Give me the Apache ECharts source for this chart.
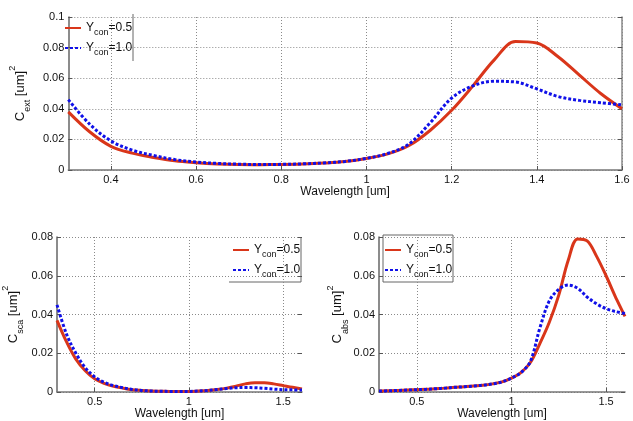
<!DOCTYPE html>
<html><head><meta charset="utf-8">
<script src="https://cdn.jsdelivr.net/npm/echarts@6/dist/echarts.min.js"></script>
<style>html,body{margin:0;padding:0;background:#fff}#c{width:633px;height:421px}</style>
</head><body><div id="c"></div>
<script>
const wavelength = [0.30,0.35,0.40,0.45,0.50,0.55,0.60,0.65,0.70,0.75,0.80,0.85,0.90,0.95,1.00,1.05,1.10,1.15,1.20,1.25,1.30,1.35,1.40,1.45,1.50,1.55,1.60];
const seriesNames = ['Y_con=0.5','Y_con=1.0'];
const extY05 = [0.038,0.025,0.0155,0.011,0.0082,0.006,0.0048,0.004,0.0036,0.0035,0.0036,0.0039,0.0045,0.0055,0.0075,0.0105,0.016,0.026,0.039,0.055,0.072,0.084,0.083,0.074,0.062,0.050,0.040];
const extY10 = [0.046,0.030,0.019,0.013,0.0095,0.0068,0.0052,0.0043,0.0038,0.0036,0.0037,0.004,0.0046,0.0056,0.0076,0.0108,0.017,0.031,0.047,0.055,0.058,0.0575,0.053,0.048,0.0455,0.044,0.0425];
const scaY05 = [0.037,0.026,0.017,0.011,0.0068,0.0045,0.003,0.002,0.0012,0.0008,0.0005,0.0004,0.0003,0.0003,0.0003,0.0005,0.0008,0.0013,0.002,0.003,0.0042,0.0048,0.0048,0.0042,0.0033,0.0024,0.0016];
const scaY10 = [0.045,0.030,0.020,0.0125,0.0078,0.005,0.0033,0.0022,0.0013,0.0008,0.0005,0.0004,0.0003,0.0003,0.0003,0.0005,0.0008,0.0013,0.0018,0.0022,0.0023,0.0022,0.0019,0.0015,0.0012,0.0011,0.001];
const absY05 = [0.0005,0.0006,0.0008,0.001,0.0012,0.0014,0.0017,0.002,0.0024,0.0027,0.0031,0.0035,0.0042,0.0052,0.0072,0.010,0.0152,0.025,0.036,0.050,0.068,0.079,0.078,0.070,0.060,0.049,0.039];
const absY10 = [0.0005,0.0006,0.0008,0.001,0.0012,0.0014,0.0017,0.002,0.0024,0.0027,0.0031,0.0035,0.0042,0.0052,0.0072,0.010,0.0158,0.033,0.047,0.053,0.0552,0.0535,0.049,0.0455,0.043,0.0415,0.0405];
const topXTicks = [0.4,0.6,0.8,1.0,1.2,1.4,1.6];
const botXTicks = [0.5,1.0,1.5];
const xName = 'Wavelength [um]';

const FONT = "'Liberation Sans', Arial, sans-serif";
const RED = '#d9361a', BLUE = '#1010e8';
const GRID_LINE = {show:true, lineStyle:{type:[1,2], color:'#8a8a8a', width:1}};
const nameRich = {
  a:{fontSize:13, fontFamily:FONT, color:'#111', lineHeight:24, verticalAlign:'middle'},
  s:{fontSize:9, fontFamily:FONT, color:'#111', lineHeight:9, verticalAlign:'bottom'},
  p:{fontSize:9, fontFamily:FONT, color:'#111', lineHeight:9, verticalAlign:'top'}
};
function yName(sub){ return '{a|C}{s|'+sub+'}{a| [um]}{p|2}'; }

function xAxis(gi, ticks, gap){
  return {type:'value', gridIndex:gi, min:0.3, max:1.6, name:xName, nameLocation:'middle', nameGap:gap,
    nameTextStyle:{fontFamily:FONT, fontSize:12, color:'#111'},
    axisLine:{show:true, onZero:false, lineStyle:{color:'#777', width:1.5}},
    axisTick:{show:true, inside:true, length:4, customValues:ticks, lineStyle:{color:'#555'}},
    axisLabel:{customValues:ticks, fontFamily:FONT, fontSize:11, color:'#111', margin:4,
      formatter:v=>String(+v.toFixed(1))},
    splitLine:GRID_LINE};
}
function yAxis(gi, max, sub, gap){
  return {type:'value', gridIndex:gi, min:0, max:max, interval:0.02, name:yName(sub), nameLocation:'middle', nameGap:gap,
    nameTextStyle:{rich:nameRich},
    axisLine:{show:true, lineStyle:{color:'#666', width:1.5}},
    axisTick:{show:true, inside:true, length:4, lineStyle:{color:'#555'}},
    axisLabel:{fontFamily:FONT, fontSize:11, color:'#111', margin:4, showMaxLabel:true},
    splitLine:GRID_LINE};
}
function yRight(gi, max, showLine){
  return {type:'value', gridIndex:gi, min:0, max:max, interval:0.02, position:'right',
    axisLine:{show:showLine, lineStyle:{color:'#888', width:1.5}},
    axisTick:{show:true, inside:true, length:4, lineStyle:{color:'#555'}},
    axisLabel:{show:false}, splitLine:{show:false}};
}
function pairs(ys){ return wavelength.map((x,i)=>[x, ys[i]]); }
function ser(name, gi, ys, yi){
  const red = name === seriesNames[0];
  return {type:'line', name:name, xAxisIndex:gi, yAxisIndex:yi, data:pairs(ys), smooth:0.35,
    symbol:'none', showSymbol:false, z: red ? 2 : 3,
    lineStyle:{color: red?RED:BLUE, width:3, type: red?'solid':[3,2]},
    itemStyle:{color: red?RED:BLUE}};
}
const legFmt = n => '{a|Y}{b|con}{a|' + n.split('_con')[1] + '}';
const legRich = {
  a:{fontSize:12, fontFamily:FONT, color:'#111', lineHeight:18, verticalAlign:'middle'},
  b:{fontSize:9, fontFamily:FONT, color:'#111', lineHeight:9, verticalAlign:'bottom'}
};
function legend(left, top){
  return {data:seriesNames, orient:'vertical', left:left, top:top, itemWidth:16, itemHeight:10, itemGap:5,
    padding:[2,2,2,2], formatter:legFmt, textStyle:{rich:legRich}, selectedMode:false, borderWidth:0,
    itemStyle:{opacity:0}};
}

const chart = echarts.init(document.getElementById('c'), null, {renderer:'canvas'});
chart.setOption({
  animation:false,
  backgroundColor:'#fff',
  grid:[
    {left:60, right:11, top:17, bottom:251},
    {left:56, right:331, top:237, bottom:29},
    {left:379, right:8, top:237, bottom:29}
  ],
  xAxis:[xAxis(0, topXTicks, 13), xAxis(1, botXTicks, 15), xAxis(2, botXTicks, 15)],
  yAxis:[yAxis(0, 0.1, 'ext', 33), yAxis(1, 0.08, 'sca', 32), yAxis(2, 0.08, 'abs', 29),
         yRight(0, 0.1, true), yRight(1, 0.08, false), yRight(2, 0.08, false)],
  legend:[legend(62, 20), legend(230, 242), legend(382, 242)],
  graphic:[
    {type:'line', shape:{x1:133, y1:14, x2:133, y2:61}, style:{stroke:'#666', lineWidth:1}},
    {type:'polyline', shape:{points:[[301,238],[301,282],[229,282]]}, style:{stroke:'#666', lineWidth:1, fill:null}},
    {type:'rect', shape:{x:383, y:235, width:70, height:47}, style:{stroke:'#666', lineWidth:1, fill:null}}
  ],
  series:[
    ser(seriesNames[0], 0, extY05, 0), ser(seriesNames[1], 0, extY10, 0),
    ser(seriesNames[0], 1, scaY05, 1), ser(seriesNames[1], 1, scaY10, 1),
    ser(seriesNames[0], 2, absY05, 2), ser(seriesNames[1], 2, absY10, 2)
  ]
});
</script></body></html>
